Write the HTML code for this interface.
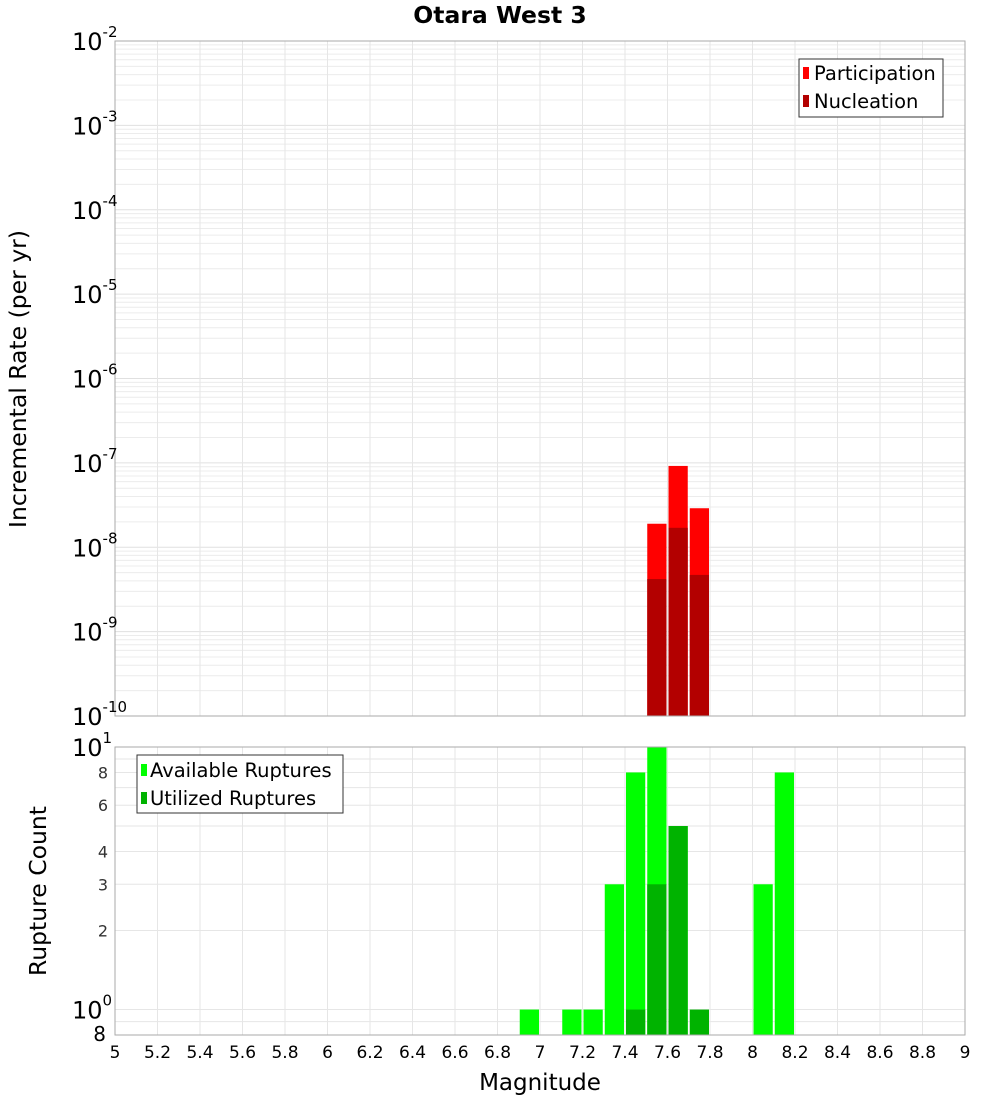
<!DOCTYPE html>
<html><head><meta charset="utf-8">
<style>
body{margin:0;background:#fff;}
svg{display:block;font-family:"DejaVu Sans","Liberation Sans",sans-serif;}
</style></head>
<body>
<svg id="chart" width="1000" height="1100" xmlns="http://www.w3.org/2000/svg">
<text x="500" y="23" text-anchor="middle" font-size="23.5" font-weight="bold">Otara West 3</text>
<g id="topG"></g>
<g id="botG"></g>
<text transform="translate(26,379) rotate(-90)" text-anchor="middle" font-size="23.5">Incremental Rate (per yr)</text>
<text transform="translate(46,891) rotate(-90)" text-anchor="middle" font-size="23.5">Rupture Count</text>
<text x="540" y="1090" text-anchor="middle" font-size="23">Magnitude</text>
<g>
<rect x="799" y="59" width="144" height="58" fill="#fff" stroke="#333"/>
<rect x="803" y="67" width="6" height="12" fill="#ff0000"/>
<text x="814" y="80" font-size="19.5">Participation</text>
<rect x="803" y="95" width="6" height="12" fill="#b30000"/>
<text x="814" y="108" font-size="19.5">Nucleation</text>
</g>
<g>
<rect x="137" y="755" width="206" height="58" fill="#fff" stroke="#333"/>
<rect x="141" y="764" width="6" height="12" fill="#00ff00"/>
<text x="150" y="777" font-size="19.5">Available Ruptures</text>
<rect x="141" y="792" width="6" height="12" fill="#00b300"/>
<text x="150" y="805" font-size="19.5">Utilized Ruptures</text>
</g>
</svg>
<script>
const mags=[7.55,7.65,7.75];
const participation=[1.9e-8,9.2e-8,2.9e-8];
const nucleation=[4.2e-9,1.7e-8,4.7e-9];
const availMags=[6.95,7.15,7.25,7.35,7.45,7.55,7.65,8.05,8.15];
const available=[1,1,1,3,8,10,5,3,8];
const utilMags=[7.45,7.55,7.65,7.75];
const utilized=[1,3,5,1];
const xTicks=[5,5.2,5.4,5.6,5.8,6,6.2,6.4,6.6,6.8,7,7.2,7.4,7.6,7.8,8,8.2,8.4,8.6,8.8,9];
const topExps=[-2,-3,-4,-5,-6,-7,-8,-9,-10];
const botTicks=[0.8,1,2,3,4,6,8,10];
const botLabels=["8","","2","3","4","6","8",""];

const NS="http://www.w3.org/2000/svg";
const X0=115,X1=965;
const xs=m=>X0+(m-5)/4*(X1-X0);
const TY0=41,TY1=716;
const yT=v=>TY0+(-2-Math.log10(v))/8*(TY1-TY0);
const BY0=747,BY1=1035;
const yB=v=>BY0+(1-Math.log10(v))/(1-Math.log10(0.8))*(BY1-BY0);
function el(p,t,a){const e=document.createElementNS(NS,t);for(const k in a)e.setAttribute(k,a[k]);p.appendChild(e);return e;}
const topG=document.getElementById('topG'),botG=document.getElementById('botG');
const svg=document.getElementById('chart');

for(let d=-10;d<-2;d++){for(let k=1;k<10;k++){const v=k*Math.pow(10,d);const yy=yT(v);
 const g=el(topG,'line',{x1:X0,x2:X1,y1:yy,y2:yy,stroke:k==1?'#e0e0e0':'#ececec','stroke-width':1});
 
 }}
xTicks.forEach(t=>{[topG,botG].forEach((g,i)=>{const l=el(g,'line',{x1:xs(t),x2:xs(t),y1:i?BY0:TY0,y2:i?BY1:TY1,stroke:'#e6e6e6'});
 
 });});
[0.8,0.9,1,2,3,4,5,6,7,8,9,10].forEach(v=>{const l=el(botG,'line',{x1:X0,x2:X1,y1:yB(v),y2:yB(v),stroke:'#e6e6e6'});
 
 });

const bw=(X1-X0)/40;
mags.forEach((m,i)=>{
 const r=el(topG,'rect',{x:xs(m)-bw/2+1,width:bw-2,y:yT(participation[i]),height:TY1-yT(participation[i]),fill:'#ff0000'});
 
 
 const n=el(topG,'rect',{x:xs(m)-bw/2+1,width:bw-2,y:yT(nucleation[i]),height:TY1-yT(nucleation[i]),fill:'#b30000'});
 
 
});
availMags.forEach((m,i)=>{
 const r=el(botG,'rect',{x:xs(m)-bw/2+1,width:bw-2,y:yB(available[i]),height:BY1-yB(available[i]),fill:'#00ff00'});
 
 
});
utilMags.forEach((m,i)=>{
 const r=el(botG,'rect',{x:xs(m)-bw/2+1,width:bw-2,y:yB(utilized[i]),height:BY1-yB(utilized[i]),fill:'#00b300'});
 
 
});
el(topG,'rect',{x:X0,y:TY0,width:X1-X0,height:TY1-TY0,fill:'none',stroke:'#aaa'});
el(botG,'rect',{x:X0,y:BY0,width:X1-X0,height:BY1-BY0,fill:'none',stroke:'#aaa'});

topExps.forEach(e=>{const yy=yT(Math.pow(10,e));
 const t=el(svg,'text',{x:72,y:yy+9,'font-size':24});
 
 
 t.textContent='10';
 const s=el(t,'tspan',{dy:-13,'font-size':15});s.textContent=String(e);
});
botTicks.forEach((v,i)=>{const yy=yB(v);
 if(v==10||v==1){const t=el(svg,'text',{x:72,y:yy+9,'font-size':24});
  
  
  t.textContent='10';const s=el(t,'tspan',{dy:-13,'font-size':15});s.textContent=v==10?'1':'0';}
 else{const t=el(svg,'text',{x:v==0.8?106:108,y:yy+6,'font-size':v==0.8?20:16,'text-anchor':'end',fill:v==0.8?'#000':'#333'});
  
  
  t.textContent=botLabels[i];}
});
xTicks.forEach(t=>{const e=el(svg,'text',{x:xs(t),y:1058,'font-size':17,'text-anchor':'middle'});
 
 
 e.textContent=String(t);});
</script>
</body></html>
